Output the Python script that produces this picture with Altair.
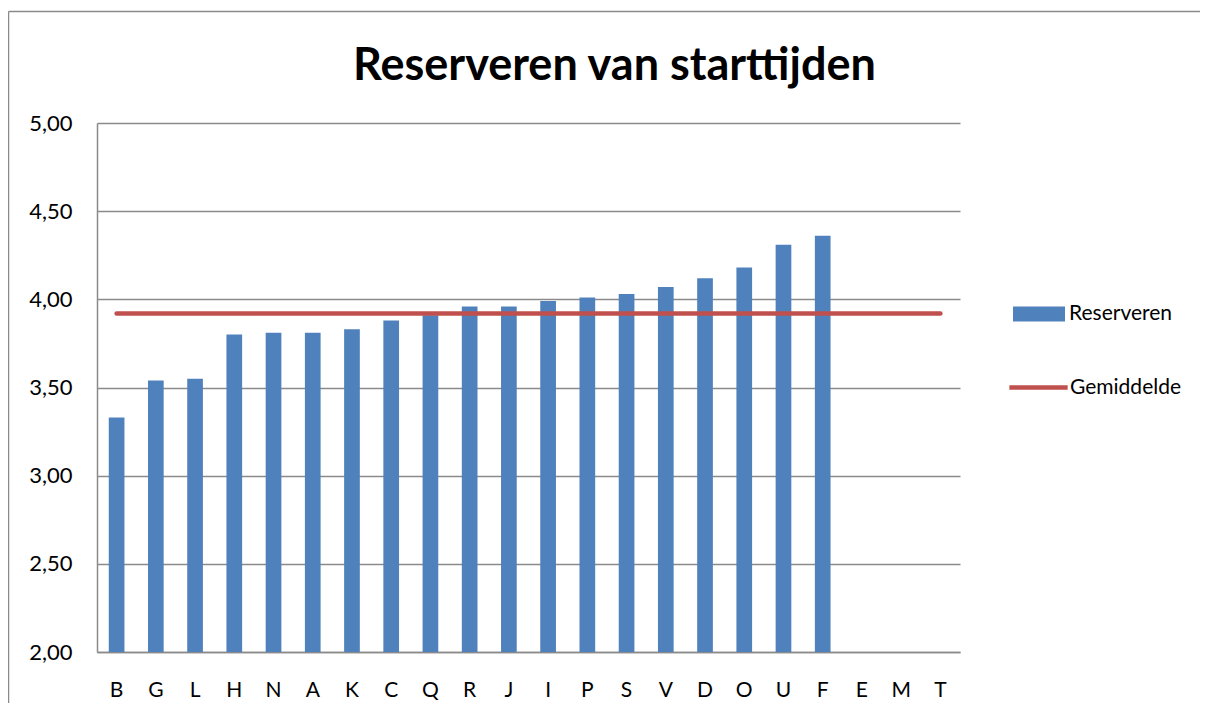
import altair as alt
import pandas as pd

categories = ["B", "G", "L", "H", "N", "A", "K", "C", "Q", "R", "J", "I",
              "P", "S", "V", "D", "O", "U", "F", "E", "M", "T"]
bar_categories = categories[:19]
reserveren = [3.33, 3.54, 3.55, 3.80, 3.81, 3.81, 3.83, 3.88, 3.91, 3.96,
              3.96, 3.99, 4.01, 4.03, 4.07, 4.12, 4.18, 4.31, 4.36]
gemiddelde = 3.92
y_ticks = [2.0, 2.5, 3.0, 3.5, 4.0, 4.5, 5.0]

bars_df = pd.DataFrame({"cat": bar_categories, "value": reserveren, "serie": "Reserveren"})
line_df = pd.DataFrame({"cat": categories, "value": [gemiddelde] * len(categories),
                        "serie": "Gemiddelde"})

W, H = 863, 529
FONT = "Lato"
GRID = "#8a8a8a"
BLUE = "#4F81BD"
RED = "#C0504D"

x_enc = alt.X("cat:N",
              scale=alt.Scale(domain=categories, paddingInner=0.6, paddingOuter=0.3),
              axis=alt.Axis(title=None, labelAngle=0, ticks=False, labelFontSize=21,
                            labelPadding=27, domainColor=GRID, domainWidth=1.5,
                            labelColor="black", labelFont=FONT, grid=False))
y_enc = alt.Y("value:Q",
              scale=alt.Scale(domain=[2, 5], zero=False, nice=False),
              axis=alt.Axis(title=None, values=y_ticks,
                            labelExpr="replace(format(datum.value, '.2f'), '.', ',')",
                            labelFontSize=22, labelPadding=25, ticks=False,
                            domainColor=GRID, domainWidth=1.5, gridColor=GRID,
                            gridWidth=1.5, labelColor="black", labelFont=FONT))

bars = alt.Chart(bars_df).mark_bar(clip=True).encode(
    x=x_enc, y=y_enc,
    fill=alt.Fill("serie:N", scale=alt.Scale(domain=["Reserveren"], range=[BLUE]),
                  legend=alt.Legend(title=None, orient="none", legendX=916, legendY=165,
                                    symbolType="M-1,-0.29H1V0.29H-1Z", symbolSize=2704,
                                    symbolStrokeWidth=0, labelFontSize=21, labelFont=FONT,
                                    labelColor="black", labelOffset=4, padding=0)),
)

line = alt.Chart(line_df).mark_line(strokeWidth=4.5, strokeCap="round").encode(
    x=x_enc, y=y_enc,
    stroke=alt.Stroke("serie:N", scale=alt.Scale(domain=["Gemiddelde"], range=[RED]),
                      legend=alt.Legend(title=None, orient="none", legendX=910, legendY=233,
                                        symbolType="stroke", symbolSize=3400,
                                        symbolStrokeWidth=4.5, labelFontSize=21,
                                        labelFont=FONT, labelColor="black",
                                        labelOffset=0, padding=0)),
)

frame_df = pd.DataFrame({"f": [0]})
frame_top = alt.Chart(frame_df).mark_rule(stroke=GRID, strokeWidth=1.5).encode(
    x=alt.value(-88.5), x2=alt.value(W + 240), y=alt.value(-111.5))
frame_left = alt.Chart(frame_df).mark_rule(stroke=GRID, strokeWidth=1.5).encode(
    x=alt.value(-88.5), y=alt.value(-111.5), y2=alt.value(H + 51))

chart = alt.layer(frame_top, frame_left, bars, line).properties(
    width=W, height=H,
    autosize=alt.AutoSizeParams(type="none"),
    padding={"left": 89, "top": 115, "right": 240, "bottom": 51},
    title=alt.TitleParams("Reserveren van starttijden", fontSize=45, fontWeight="bold",
                          font=FONT, color="black", anchor="middle", dx=86,
                          offset=0, dy=78),
).configure_view(stroke=None)

chart.save("out.html", embed_options={"renderer": "svg", "actions": False})
